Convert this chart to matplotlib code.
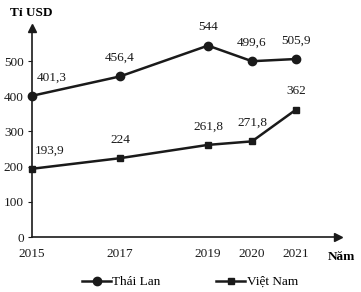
import matplotlib.pyplot as plt

plt.rcParams['font.family'] = ['Liberation Serif', 'DejaVu Serif']

# data (ti USD)
years = [2015, 2017, 2019, 2020, 2021]
thai_lan = [401.3, 456.4, 544, 499.6, 505.9]
viet_nam = [193.9, 224, 261.8, 271.8, 362]
thai_labels = ['401,3', '456,4', '544', '499,6', '505,9']
viet_labels = ['193,9', '224', '261,8', '271,8', '362']
y_ticks = [0, 100, 200, 300, 400, 500]

fig = plt.figure(figsize=(3.61, 2.92), dpi=100)
ax = fig.add_axes([32 / 361, 55 / 292, 306 / 361, 209 / 292])

col = '#1a1a1a'
l1, = ax.plot(years, thai_lan, color=col, lw=1.8, marker='o', ms=6, label='Thái Lan', clip_on=False)
l2, = ax.plot(years, viet_nam, color=col, lw=1.8, marker='s', ms=5, label='Việt Nam', clip_on=False)

# value labels
for i, (x, y) in enumerate(zip(years, thai_lan)):
    dx = 14 if i == 0 else 0
    ax.annotate(thai_labels[i], (x, y), xytext=(dx, 9), textcoords='offset points',
                ha='center', va='bottom', fontsize=9.5, color=col)
for i, (x, y) in enumerate(zip(years, viet_nam)):
    dx = 13 if i == 0 else 0
    ax.annotate(viet_labels[i], (x, y), xytext=(dx, 9), textcoords='offset points',
                ha='center', va='bottom', fontsize=9.5, color=col)

ax.set_xlim(2015, 2015 + 306 / 44)
ax.set_ylim(0, 594)
ax.set_xticks(years)
ax.set_xticklabels([str(y) for y in years], fontsize=9.5)
ax.set_yticks(y_ticks)
ax.set_yticklabels([str(v) for v in y_ticks], fontsize=9.5)
ax.tick_params(axis='x', length=0, pad=8, colors=col)
ax.tick_params(axis='y', length=3, width=0.8, pad=3, colors=col)

for s in ['top', 'right']:
    ax.spines[s].set_visible(False)
for s in ['left', 'bottom']:
    ax.spines[s].set_linewidth(1.2)
    ax.spines[s].set_color(col)

# axis arrows
ax.plot([1], [0], marker='>', ms=6, color=col, transform=ax.transAxes, clip_on=False)
ax.plot([0], [1], marker='^', ms=6, color=col, transform=ax.transAxes, clip_on=False)

fig.text(10 / 361, 1 - 13 / 292, 'Tỉ USD', fontsize=9.5, fontweight='bold', va='center', ha='left')
fig.text(328 / 361, 1 - 257 / 292, 'Năm', fontsize=9.5, fontweight='bold', va='center', ha='left')

fig.legend(handles=[l1, l2], loc='center', bbox_to_anchor=(0.526, 1 - 282 / 292), ncol=2,
           frameon=False, fontsize=9.5, handlelength=2.2, handletextpad=0.1,
           columnspacing=4.2, borderaxespad=0)

fig.savefig('out.png', dpi=100)
